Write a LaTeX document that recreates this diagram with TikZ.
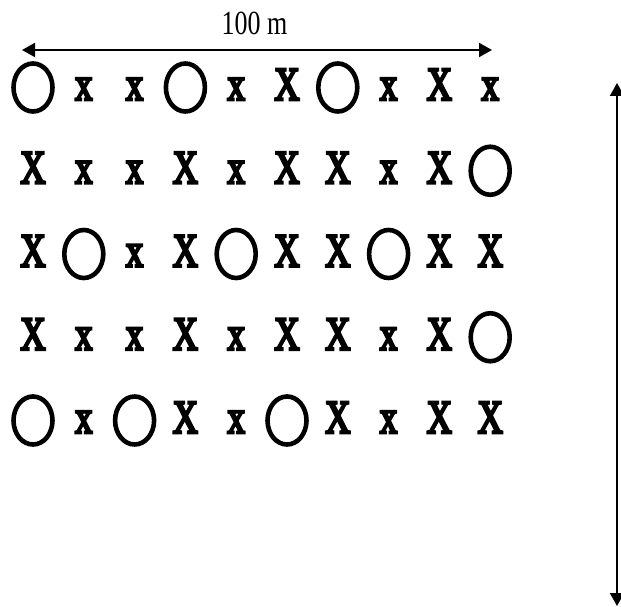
\documentclass[tikz,border=0pt]{standalone}
\usepackage{fontspec}
\setmainfont{Liberation Serif}
\newfontfamily\treefont{Liberation Serif}[FakeBold=6]
\usepackage{graphicx}
\usetikzlibrary{arrows.meta, shapes.geometric}
\newcommand{\tallmark}[1]{\scalebox{1}[1.35]{#1}}
\tikzset{
  every picture/.style={x=1pt, y=1pt},
  ring/.style={draw, ellipse, line width=4.6pt, minimum width=39pt, minimum height=48pt, inner sep=0pt},
  tree/.style={inner sep=0pt, anchor=base, font=\treefont\fontsize{35}{38}\selectfont},
  cell O/.style={ring, yshift=12.5pt, node contents={}},
  cell x/.style={tree, node contents=\tallmark{x}},
  cell X/.style={tree, node contents=\tallmark{X}},
  dimarrow/.style={{Triangle[length=13pt, width=14pt]}-{Triangle[length=13pt, width=14pt]}, line width=2pt},
  dimlabel/.style={inner sep=0pt, anchor=base, font=\fontsize{26}{30}\selectfont},
}

\begin{document}
\begin{tikzpicture}
  \useasboundingbox (0,0) rectangle (621,-607);
  % plot rows: O = ring, x = small tree, X = big tree
  \foreach \r/\row in {
      1/{O,x,x,O,x,X,O,x,X,x},
      2/{X,x,x,X,x,X,X,x,X,O},
      3/{X,O,x,X,O,X,X,O,X,X},
      4/{X,x,x,X,x,X,X,x,X,O},
      5/{O,x,O,X,x,O,X,x,X,X}} {
    \foreach \m [count=\c] in \row {
      \node[name=n\r-\c, at={({33+50.8*(\c-1)}, {-100-83.25*(\r-1)})}, cell \m];
    }
  }
  % width and length of the plot
  \coordinate (wl) at (22,-50);
  \coordinate (wr) at (492,-50);
  \node[dimlabel] (wlab) at (254.5,-35) {\scalebox{1}[1.3]{100 m}};
  \draw[dimarrow] (wl) -- (wr);
  \coordinate (ht) at (617,-83);
  \coordinate (hb) at (617,-606);
  \draw[dimarrow] (ht) -- (hb);
\end{tikzpicture}
\end{document}
